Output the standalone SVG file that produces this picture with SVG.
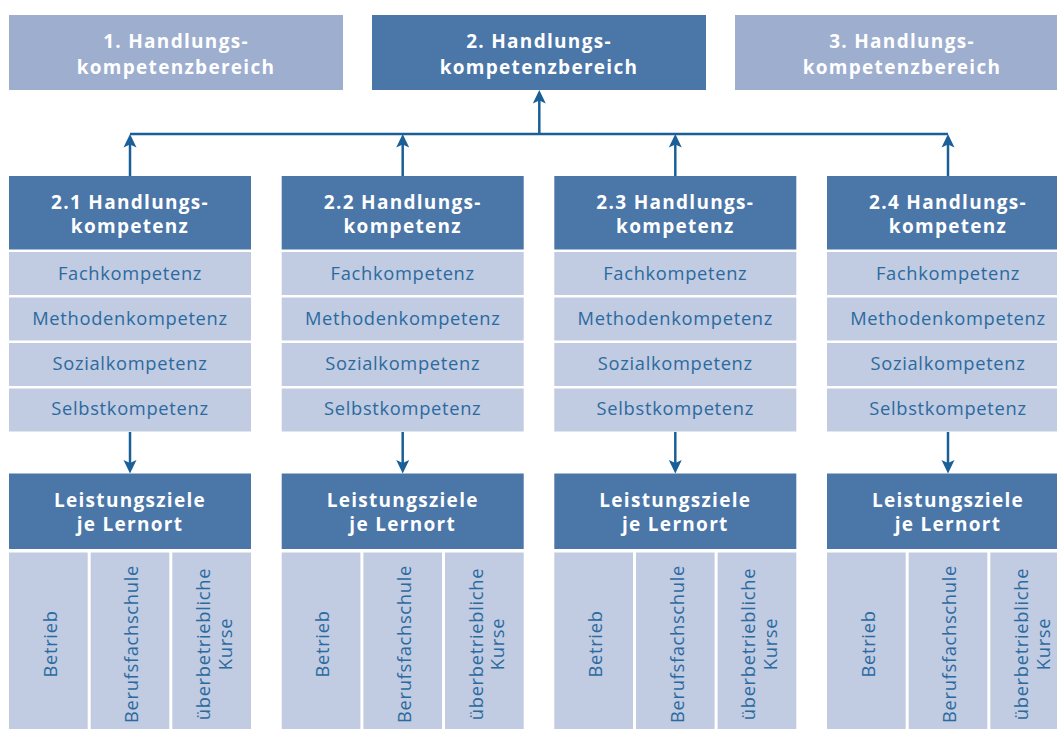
<svg xmlns="http://www.w3.org/2000/svg" width="1057" height="729" viewBox="0 0 1057 729">
<style>
.bg{fill:#ffffff}
.dark{fill:#4a76a8}
.light{fill:#9daecf}
.row{fill:#c1cbe1}
.ht{font-family:"Open Sans","Noto Sans",sans-serif;font-weight:bold;font-size:19px;letter-spacing:1.3px;fill:#ffffff;text-anchor:middle}
.rt{font-family:"Open Sans","Noto Sans",sans-serif;font-size:18.3px;letter-spacing:0.7px;fill:#2a6aa0;text-anchor:middle}
.ln{stroke:#1b5f99;stroke-width:2.5;fill:none}
</style>
<defs>
<path id="head" d="M0,0 L6.5,13.5 L0,10.5 L-6.5,13.5 Z" fill="#1b5f99"/>
</defs>
<rect class="bg" x="0" y="0" width="1057" height="729"/>

<g id="top1"><rect class="light" x="9" y="15" width="334" height="75"/>
<text class="ht" x="176" y="48">1. Handlungs-</text><text class="ht" x="176" y="74">kompetenzbereich</text></g>
<g id="top2"><rect class="dark" x="372" y="15" width="334" height="75"/>
<text class="ht" x="539" y="48">2. Handlungs-</text><text class="ht" x="539" y="74">kompetenzbereich</text></g>
<g id="top3"><rect class="light" x="735" y="15" width="334" height="75"/>
<text class="ht" x="902" y="48">3. Handlungs-</text><text class="ht" x="902" y="74">kompetenzbereich</text></g>

<g id="connectors">
<line class="ln" x1="130" y1="134" x2="948" y2="134"/>
<line class="ln" x1="539.3" y1="134" x2="539.3" y2="96"/>
<use href="#head" x="539.3" y="90"/>
<line class="ln" x1="130" y1="176" x2="130" y2="140"/><use href="#head" x="130" y="134"/>
<line class="ln" x1="402.7" y1="176" x2="402.7" y2="140"/><use href="#head" x="402.7" y="134"/>
<line class="ln" x1="675.3" y1="176" x2="675.3" y2="140"/><use href="#head" x="675.3" y="134"/>
<line class="ln" x1="948" y1="176" x2="948" y2="140"/><use href="#head" x="948" y="134"/>
<line class="ln" x1="130" y1="432" x2="130" y2="467"/><use href="#head" transform="translate(130,473.5) rotate(180)"/>
<line class="ln" x1="402.7" y1="432" x2="402.7" y2="467"/><use href="#head" transform="translate(402.7,473.5) rotate(180)"/>
<line class="ln" x1="675.3" y1="432" x2="675.3" y2="467"/><use href="#head" transform="translate(675.3,473.5) rotate(180)"/>
<line class="ln" x1="948" y1="432" x2="948" y2="467"/><use href="#head" transform="translate(948,473.5) rotate(180)"/>
</g>

<g id="col1" transform="translate(9,0)">
<rect class="dark" x="0" y="176" width="242" height="73.5"/>
<text class="ht" x="121" y="209">2.1 Handlungs-</text><text class="ht" x="121" y="233">kompetenz</text>
<rect class="row" x="0" y="252" width="242" height="43"/><text class="rt" x="121" y="280">Fachkompetenz</text>
<rect class="row" x="0" y="297.5" width="242" height="43"/><text class="rt" x="121" y="325">Methodenkompetenz</text>
<rect class="row" x="0" y="343" width="242" height="43"/><text class="rt" x="121" y="370">Sozialkompetenz</text>
<rect class="row" x="0" y="388.5" width="242" height="43"/><text class="rt" x="121" y="415">Selbstkompetenz</text>
<rect class="dark" x="0" y="473.5" width="242" height="75.5"/>
<text class="ht" x="121" y="507">Leistungsziele</text><text class="ht" x="121" y="531">je Lernort</text>
<rect class="row" x="0" y="552.5" width="78.7" height="180"/>
<rect class="row" x="81.7" y="552.5" width="78.6" height="180"/>
<rect class="row" x="163.3" y="552.5" width="78.7" height="180"/>
<text class="rt" transform="translate(47.5,644) rotate(-90)">Betrieb</text>
<text class="rt" transform="translate(129.3,644) rotate(-90)">Berufsfachschule</text>
<text class="rt" transform="translate(201,644) rotate(-90)">überbetriebliche</text>
<text class="rt" transform="translate(222.5,644) rotate(-90)">Kurse</text>
</g>

<g id="col2" transform="translate(281.7,0)">
<rect class="dark" x="0" y="176" width="242" height="73.5"/>
<text class="ht" x="121" y="209">2.2 Handlungs-</text><text class="ht" x="121" y="233">kompetenz</text>
<rect class="row" x="0" y="252" width="242" height="43"/><text class="rt" x="121" y="280">Fachkompetenz</text>
<rect class="row" x="0" y="297.5" width="242" height="43"/><text class="rt" x="121" y="325">Methodenkompetenz</text>
<rect class="row" x="0" y="343" width="242" height="43"/><text class="rt" x="121" y="370">Sozialkompetenz</text>
<rect class="row" x="0" y="388.5" width="242" height="43"/><text class="rt" x="121" y="415">Selbstkompetenz</text>
<rect class="dark" x="0" y="473.5" width="242" height="75.5"/>
<text class="ht" x="121" y="507">Leistungsziele</text><text class="ht" x="121" y="531">je Lernort</text>
<rect class="row" x="0" y="552.5" width="78.7" height="180"/>
<rect class="row" x="81.7" y="552.5" width="78.6" height="180"/>
<rect class="row" x="163.3" y="552.5" width="78.7" height="180"/>
<text class="rt" transform="translate(47.5,644) rotate(-90)">Betrieb</text>
<text class="rt" transform="translate(129.3,644) rotate(-90)">Berufsfachschule</text>
<text class="rt" transform="translate(201,644) rotate(-90)">überbetriebliche</text>
<text class="rt" transform="translate(222.5,644) rotate(-90)">Kurse</text>
</g>

<g id="col3" transform="translate(554.3,0)">
<rect class="dark" x="0" y="176" width="242" height="73.5"/>
<text class="ht" x="121" y="209">2.3 Handlungs-</text><text class="ht" x="121" y="233">kompetenz</text>
<rect class="row" x="0" y="252" width="242" height="43"/><text class="rt" x="121" y="280">Fachkompetenz</text>
<rect class="row" x="0" y="297.5" width="242" height="43"/><text class="rt" x="121" y="325">Methodenkompetenz</text>
<rect class="row" x="0" y="343" width="242" height="43"/><text class="rt" x="121" y="370">Sozialkompetenz</text>
<rect class="row" x="0" y="388.5" width="242" height="43"/><text class="rt" x="121" y="415">Selbstkompetenz</text>
<rect class="dark" x="0" y="473.5" width="242" height="75.5"/>
<text class="ht" x="121" y="507">Leistungsziele</text><text class="ht" x="121" y="531">je Lernort</text>
<rect class="row" x="0" y="552.5" width="78.7" height="180"/>
<rect class="row" x="81.7" y="552.5" width="78.6" height="180"/>
<rect class="row" x="163.3" y="552.5" width="78.7" height="180"/>
<text class="rt" transform="translate(47.5,644) rotate(-90)">Betrieb</text>
<text class="rt" transform="translate(129.3,644) rotate(-90)">Berufsfachschule</text>
<text class="rt" transform="translate(201,644) rotate(-90)">überbetriebliche</text>
<text class="rt" transform="translate(222.5,644) rotate(-90)">Kurse</text>
</g>

<g id="col4" transform="translate(827,0)">
<rect class="dark" x="0" y="176" width="242" height="73.5"/>
<text class="ht" x="121" y="209">2.4 Handlungs-</text><text class="ht" x="121" y="233">kompetenz</text>
<rect class="row" x="0" y="252" width="242" height="43"/><text class="rt" x="121" y="280">Fachkompetenz</text>
<rect class="row" x="0" y="297.5" width="242" height="43"/><text class="rt" x="121" y="325">Methodenkompetenz</text>
<rect class="row" x="0" y="343" width="242" height="43"/><text class="rt" x="121" y="370">Sozialkompetenz</text>
<rect class="row" x="0" y="388.5" width="242" height="43"/><text class="rt" x="121" y="415">Selbstkompetenz</text>
<rect class="dark" x="0" y="473.5" width="242" height="75.5"/>
<text class="ht" x="121" y="507">Leistungsziele</text><text class="ht" x="121" y="531">je Lernort</text>
<rect class="row" x="0" y="552.5" width="78.7" height="180"/>
<rect class="row" x="81.7" y="552.5" width="78.6" height="180"/>
<rect class="row" x="163.3" y="552.5" width="78.7" height="180"/>
<text class="rt" transform="translate(47.5,644) rotate(-90)">Betrieb</text>
<text class="rt" transform="translate(129.3,644) rotate(-90)">Berufsfachschule</text>
<text class="rt" transform="translate(201,644) rotate(-90)">überbetriebliche</text>
<text class="rt" transform="translate(222.5,644) rotate(-90)">Kurse</text>
</g>
</svg>
